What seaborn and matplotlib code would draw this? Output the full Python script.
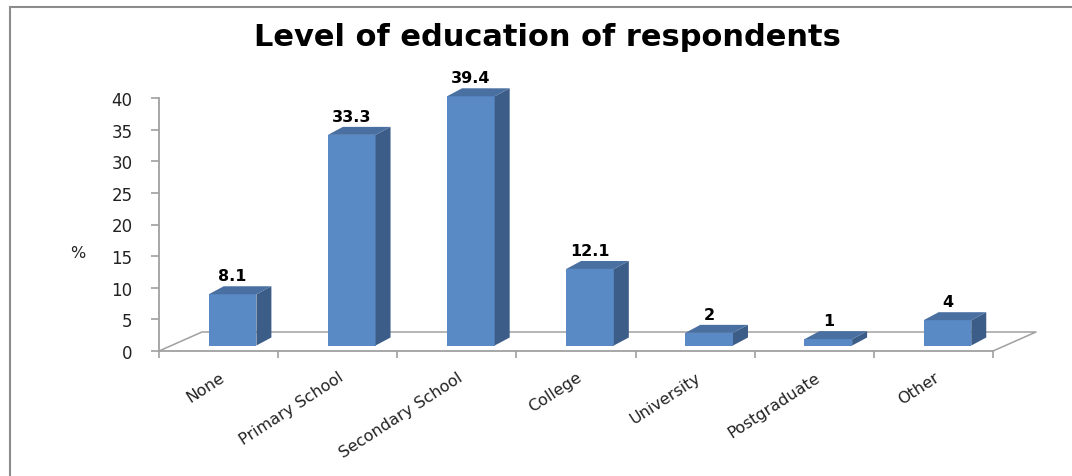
import numpy as np
import pandas as pd
import matplotlib
matplotlib.use("Agg")
import matplotlib.pyplot as plt
import seaborn as sns
from matplotlib.patches import Polygon, Rectangle
from matplotlib.lines import Line2D
from matplotlib.transforms import offset_copy, ScaledTranslation

# Survey data: level of education of respondents (%)
categories = ["None", "Primary School", "Secondary School", "College",
              "University", "Postgraduate", "Other"]
percentages = [8.1, 33.3, 39.4, 12.1, 2, 1, 4]
y_ticks = [0, 5, 10, 15, 20, 25, 30, 35, 40]

sns.set_theme(style="white")
plt.rcParams["font.family"] = ["DejaVu Sans"]

W, H, DPI = 1072, 477, 100
fig = plt.figure(figsize=(W / DPI, H / DPI), dpi=DPI)
fig.patch.set_facecolor("white")

# plot area: left edge at x=159 px, floor front at y=352 px, top (40) at y=99 px
ax = fig.add_axes([159 / W, 1 - 352 / H, (993 - 159) / W, (352 - 99) / H])

FRONT = "#5a8ac6"
SIDE = "#3c5d88"
TOP = "#4a6fa1"
AXIS_GREY = "#a0a0a0"
BAR_W = 0.4

df = pd.DataFrame({"level": categories, "pct": percentages})
sns.barplot(data=df, x="level", y="pct", width=BAR_W, color=FRONT,
            saturation=1, ax=ax, zorder=3)
ax.set_xlim(-0.5, len(categories) - 0.5)
ax.set_ylim(0, 40)

# bars sit a little behind the front plane of the floor
bar_tr = offset_copy(ax.transData, fig=fig, x=14, y=5.5, units="dots")

# depth of a bar in data units (15 px right, 8 px up)
px_x = (993 - 159) / len(categories)
px_y = (352 - 99) / 40
bdx, bdy = 15 / px_x, 8 / px_y
# depth of the floor (43 px right, 19 px up)
fdx, fdy = 43 / px_x, 19 / px_y

for i, patch in enumerate(ax.patches):
    patch.set_transform(bar_tr)
    patch.set_edgecolor("none")
    patch.set_clip_on(False)
    x0 = patch.get_x()
    x1 = x0 + patch.get_width()
    h = patch.get_height()
    side = Polygon([(x1, 0), (x1, h), (x1 + bdx, h + bdy), (x1 + bdx, bdy)],
                   closed=True, facecolor=SIDE, edgecolor="none",
                   transform=bar_tr, zorder=3, clip_on=False)
    top = Polygon([(x0, h), (x1, h), (x1 + bdx, h + bdy), (x0 + bdx, h + bdy)],
                  closed=True, facecolor=TOP, edgecolor="none",
                  transform=bar_tr, zorder=3, clip_on=False)
    ax.add_patch(side)
    ax.add_patch(top)
    ax.annotate(f"{percentages[i]:g}", xy=(x0 + BAR_W / 2, h + bdy),
                xycoords=bar_tr, xytext=(0, 3), textcoords="offset pixels",
                ha="center", va="bottom", fontsize=11.5, fontweight="bold",
                color="black", zorder=5, annotation_clip=False)

# floor outline (back edge and the two sides)
xl, xr = -0.5, len(categories) - 0.5
floor_kw = dict(color=AXIS_GREY, lw=1.1, transform=ax.transData,
                clip_on=False, zorder=1)
ax.add_line(Line2D([xl, xl + fdx, xr + fdx, xr], [0, fdy, fdy, 0], **floor_kw))

# axes styling
for s in ["top", "right"]:
    ax.spines[s].set_visible(False)
for s in ["left", "bottom"]:
    ax.spines[s].set_color(AXIS_GREY)
    ax.spines[s].set_linewidth(1.3)
ax.set_yticks(y_ticks)
ax.tick_params(axis="y", length=6, width=1.2, color=AXIS_GREY, pad=13,
               labelsize=12, labelcolor="#222222", left=True)
ax.set_xticks(range(len(categories)))
ax.set_xticklabels(categories)
ax.set_xticks(np.arange(-0.5, len(categories), 1), minor=True)
ax.tick_params(axis="x", which="major", length=0, pad=13, labelsize=11.5,
               labelcolor="#222222")
ax.tick_params(axis="x", which="minor", length=5, width=1.2, color=AXIS_GREY,
               bottom=True)
shift = ScaledTranslation(0 / DPI, 0, fig.dpi_scale_trans)
for lab in ax.get_xticklabels():
    lab.set_rotation(33)
    lab.set_ha("right")
    lab.set_va("top")
    lab.set_rotation_mode("anchor")
    lab.set_transform(lab.get_transform() + shift)
ax.set_xlabel("")
ax.set_ylabel("")
ax.grid(False)
ax.set_facecolor("none")

fig.text(78 / W, 1 - 253 / H, "%", ha="center", va="center", fontsize=11.5,
         color="#222222")
fig.text(547 / W, 1 - 38 / H, "Level of education of respondents",
         ha="center", va="center", fontsize=22, fontweight="bold",
         color="black")

# chart-area border
fig.add_artist(Rectangle((9.5 / W, -0.1), 1.2, 1 - 7.5 / H + 0.1,
                         transform=fig.transFigure, fill=False,
                         edgecolor="#8c8c8c", lw=1.5))

fig.savefig("out.png", dpi=DPI)
